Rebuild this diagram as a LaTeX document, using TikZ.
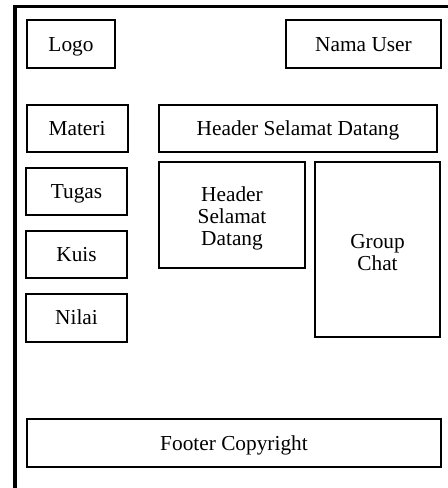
\documentclass[tikz,border=0pt]{standalone}
\usepackage{fontspec}
\setmainfont{Liberation Serif}
\usepackage{tikz}
\usetikzlibrary{positioning}

\begin{document}
\begin{tikzpicture}[
  x=0.75pt, y=-0.75pt,
  every node/.style={font=\fontsize{16}{16.5}\selectfont},
  block/.style={draw=black, line width=1.5pt, align=center, inner sep=0pt},
  box/.style={block, text height=14.5pt, text depth=3.3pt},
  frame/.style={draw=black, line width=2.5pt}
]
\useasboundingbox (0,0) rectangle (447,488);
% outer page frame (cut by the page on the right and bottom)
\draw[frame] (15,495) |- (460,6.5);

% top bar
\node[box, minimum width=88*0.75pt, minimum height=48*0.75pt] (logo) at (71,44) {Logo};
\node[box, minimum width=155*0.75pt, minimum height=48*0.75pt] (user) at (363.5,44) {Nama User};

% menu
\node[box, minimum width=101*0.75pt, minimum height=47*0.75pt] (materi) at (77,128.5) {Materi};
\node[box, minimum width=101*0.75pt, minimum height=47*0.75pt] (tugas) at (76.5,191.5) {Tugas};
\node[box, minimum width=101*0.75pt, minimum height=47*0.75pt] (kuis) at (76.5,254.5) {Kuis};
\node[box, minimum width=101*0.75pt, minimum height=48*0.75pt] (nilai) at (76.5,317.5) {Nilai};

% content
\node[box, minimum width=278*0.75pt, minimum height=47*0.75pt] (header) at (298,128.5) {Header Selamat Datang};
\node[block, minimum width=146*0.75pt, minimum height=106*0.75pt] (welcome) at (232,215) {};
\node[align=center, yshift=-2.25pt] (welcometxt) at (welcome.center) {Header\\Selamat\\Datang};
\node[block, minimum width=125*0.75pt, minimum height=175*0.75pt] (chat) at (377.5,249.5) {};
\node[align=center, yshift=-2.25pt] (chattxt) at (chat.center) {Group\\[0.5pt]Chat};

% footer
\node[box, minimum width=414*0.75pt, minimum height=48*0.75pt] (footer) at (234,443) {Footer Copyright};
\end{tikzpicture}
\end{document}
